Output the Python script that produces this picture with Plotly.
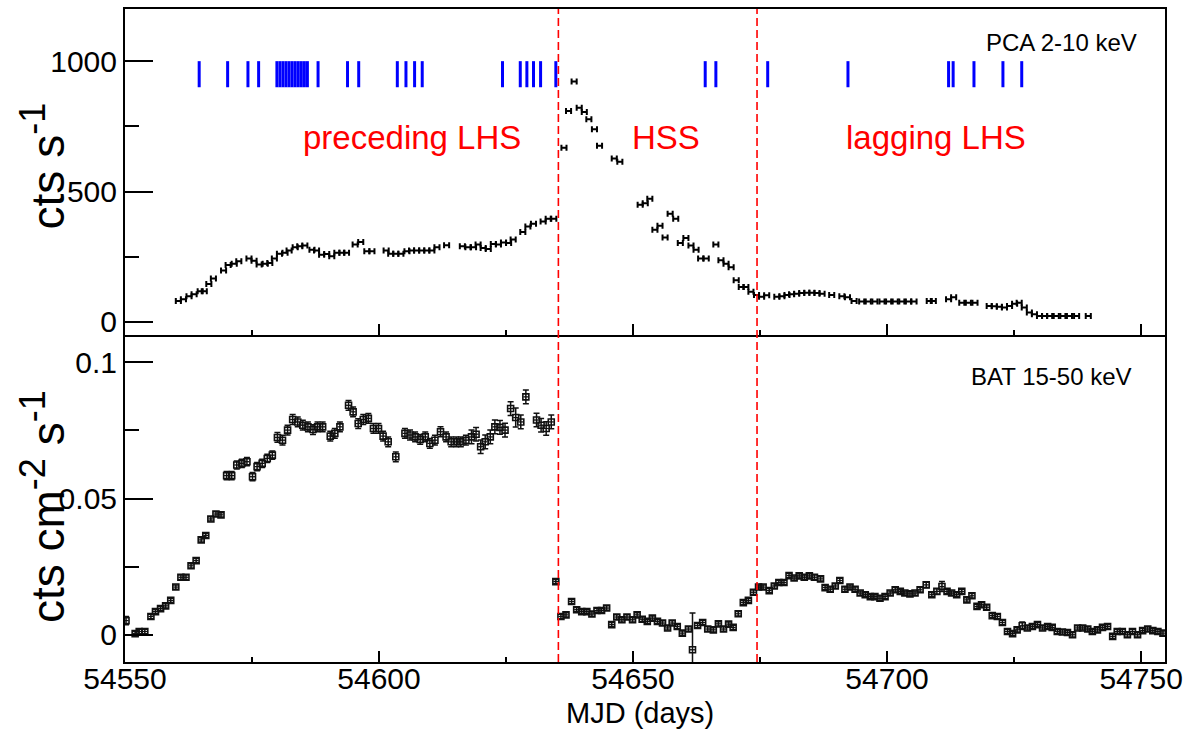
import plotly.graph_objects as go

# ---------------- data ----------------
pca_mjd = [54560.5, 54561.5, 54562.6, 54563.6, 54564.8, 54565.6, 54566.5, 54567.4, 54569.4, 54570.3,
           54571.5, 54572.4, 54574.4, 54575.4, 54576.4, 54577.6, 54578.5, 54579.4, 54580.4, 54581.5,
           54582.3, 54583.5, 54584.4, 54585.4, 54586.8, 54587.7, 54588.7, 54589.7, 54590.7, 54591.7,
           54592.7, 54593.6, 54595.3, 54596.4, 54597.6, 54598.6, 54601.4, 54602.3, 54603.3, 54604.3,
           54605.5, 54606.4, 54607.4, 54608.4, 54609.4, 54610.4, 54611.4, 54613.3, 54616.4, 54617.5,
           54618.6, 54619.5, 54620.5, 54621.5, 54622.5, 54623.5, 54624.5, 54625.5, 54626.4, 54628.3,
           54629.3, 54630.4, 54632.3, 54633.3, 54634.4,
           54636.4, 54637.3, 54638.4, 54639.4, 54640.4, 54641.3, 54642.4, 54643.4, 54646.3, 54647.4,
           54651.4, 54652.4, 54653.3, 54654.3, 54655.3, 54656.3, 54657.3, 54658.4, 54659.3, 54660.4,
           54661.4, 54662.4, 54663.3, 54664.4, 54666.3, 54667.3, 54668.3, 54669.3, 54670.3, 54671.3,
           54672.2, 54673.2, 54674.3, 54675.3, 54676.3,
           54678.3, 54679.3, 54680.3, 54681.2, 54682.2, 54683.2, 54684.2, 54685.2, 54686.2, 54687.2,
           54689.1, 54691.1, 54692.2, 54693.5, 54695.0, 54696.3, 54697.6, 54699.0, 54700.3, 54701.6,
           54702.9, 54704.2, 54705.3, 54708.3, 54709.1, 54712.1, 54713.1, 54714.7, 54716.0, 54717.3,
           54720.1, 54721.1, 54722.1, 54723.1, 54724.1, 54725.1, 54726.0, 54727.0, 54728.0, 54729.0,
           54730.0, 54731.0, 54732.0, 54733.3, 54734.6, 54735.9, 54737.3, 54739.6]
pca_rate = [80, 87, 99, 106, 118, 118, 146, 167, 197, 218,
            223, 233, 243, 235, 220, 223, 226, 243, 262, 265,
            274, 286, 290, 293, 277, 274, 258, 261, 252, 265,
            265, 265, 297, 307, 271, 271, 274, 262, 262, 262,
            271, 274, 274, 274, 274, 274, 286, 294, 290, 286,
            286, 297, 284, 280, 299, 297, 305, 303, 316, 345,
            366, 377, 385, 396, 396,
            668, 809, 922, 821, 805, 777, 739, 676, 627, 614,
            449, 455, 472, 354, 369, 324, 415, 396, 303, 322,
            293, 277, 243, 243, 297, 237, 223, 210, 160, 134,
            134, 116, 103, 97, 102,
            97, 99, 103, 106, 108, 111, 112, 112, 111, 108,
            103, 99, 95, 80, 78, 78, 78, 78, 78, 78,
            78, 78, 78, 80, 80, 87, 95, 74, 74, 74,
            61, 60, 58, 55, 61, 70, 74, 55, 36, 30,
            23, 23, 23, 23, 23, 23, 23, 23]
pca_halfbin = 0.5

bat_mjd = [54550.2, 54552.0, 54552.8, 54553.9, 54555.1, 54556.0, 54557.0, 54558.0, 54559.0, 54560.0,
           54561.0, 54562.0, 54563.0, 54564.0, 54565.0, 54565.9, 54566.9, 54567.9, 54568.9, 54570.0,
           54571.0, 54572.0, 54573.0, 54574.0, 54575.1, 54576.0, 54577.0, 54578.0, 54579.0, 54580.0,
           54581.0, 54582.0, 54583.0, 54584.0, 54585.0, 54586.0, 54587.0, 54587.9, 54588.9, 54590.4,
           54591.3, 54592.3, 54594.0, 54594.9, 54595.9, 54596.9, 54597.9, 54598.9, 54599.9, 54600.8,
           54601.8, 54603.3, 54605.1, 54606.1, 54607.1, 54608.1, 54609.1, 54610.0, 54611.0, 54612.1,
           54613.2, 54614.2, 54615.2, 54616.1, 54617.1, 54618.2, 54619.1, 54620.0, 54620.9, 54621.9,
           54622.8, 54623.8, 54624.8, 54625.9, 54626.9, 54627.9, 54628.9, 54631.0, 54631.9, 54632.9,
           54633.9,
           54634.8, 54635.8, 54636.8, 54637.9, 54638.9, 54639.9, 54640.9, 54641.9, 54642.9, 54643.8,
           54644.8, 54645.8, 54646.8, 54647.8, 54648.8, 54649.9, 54650.8, 54651.8, 54652.8, 54653.8,
           54654.8, 54655.8, 54656.8, 54657.7, 54658.7, 54659.7, 54660.9, 54661.7, 54662.7, 54663.7,
           54664.7, 54665.8, 54666.8, 54667.8, 54668.8, 54669.7, 54670.7, 54671.7, 54672.7, 54673.7,
           54674.7, 54675.6, 54676.8, 54677.8, 54678.7, 54679.7, 54680.7, 54681.7, 54682.7, 54683.7,
           54684.7, 54685.7, 54686.9, 54687.8, 54688.8, 54689.8, 54690.7, 54691.7, 54692.7, 54693.7,
           54694.7, 54695.7, 54696.7, 54697.6, 54698.6, 54699.6, 54700.6, 54701.6, 54702.6, 54703.5,
           54704.5, 54705.5, 54706.5, 54707.7, 54708.8, 54709.8, 54710.8, 54711.8, 54712.7, 54713.7,
           54714.7, 54715.7, 54716.7, 54717.7, 54718.6, 54719.6, 54720.7, 54721.7, 54722.7, 54723.7,
           54724.7, 54725.6, 54726.6, 54727.6, 54728.6, 54729.6, 54730.6, 54731.6, 54732.5, 54733.5,
           54734.5, 54735.5, 54736.5, 54737.5, 54738.5, 54739.5, 54740.4, 54741.4, 54742.4, 54743.4,
           54744.4, 54745.3, 54746.3, 54747.3, 54748.3, 54749.3, 54750.3, 54751.3, 54752.3, 54753.3,
           54754.3]
bat_rate = [0.0052, 0.0004, 0.0012, 0.0012, 0.0067, 0.0085, 0.0096, 0.0106, 0.0126, 0.0175,
            0.0211, 0.0211, 0.0253, 0.0272, 0.0348, 0.0364, 0.0425, 0.0443, 0.0440, 0.0584,
            0.0584, 0.0623, 0.0629, 0.0635, 0.0580, 0.0617, 0.0629, 0.0647, 0.0659, 0.0724,
            0.0714, 0.0751, 0.0790, 0.0781, 0.0769, 0.0763, 0.0753, 0.0763, 0.0763, 0.0729,
            0.0739, 0.0763, 0.0842, 0.0818, 0.0775, 0.0790, 0.0794, 0.0757, 0.0757, 0.0729,
            0.0708, 0.0653, 0.0739, 0.0733, 0.0726, 0.0717, 0.0726, 0.0702, 0.0714, 0.0745,
            0.0726, 0.0708, 0.0708, 0.0708, 0.0714, 0.0726, 0.0736, 0.0690, 0.0708, 0.0726,
            0.0763, 0.0761, 0.0751, 0.0830, 0.0797, 0.0781, 0.0873, 0.0788, 0.0769, 0.0757,
            0.0781,
            0.0195, 0.0067, 0.0073, 0.0122, 0.0092, 0.0085, 0.0085, 0.0076, 0.0089, 0.0089,
            0.0098, 0.0037, 0.0065, 0.0055, 0.0065, 0.0055, 0.0073, 0.0057, 0.0049, 0.0061,
            0.0049, 0.0043, 0.0025, 0.0043, 0.0030, 0.0006, 0.0021, -0.0055, 0.0034, 0.0045,
            0.0021, 0.0018, 0.0040, 0.0021, 0.0039, 0.0027, 0.0077, 0.0118, 0.0126, 0.0156,
            0.0175, 0.0175, 0.0162, 0.0179, 0.0192, 0.0192, 0.0217, 0.0208, 0.0216, 0.0211,
            0.0216, 0.0211, 0.0205, 0.0173, 0.0167, 0.0179, 0.0199, 0.0167, 0.0175, 0.0167,
            0.0153, 0.0147, 0.0140, 0.0140, 0.0134, 0.0140, 0.0153, 0.0165, 0.0159, 0.0153,
            0.0150, 0.0153, 0.0165, 0.0183, 0.0147, 0.0159, 0.0177, 0.0159, 0.0153, 0.0147,
            0.0159, 0.0128, 0.0143, 0.0104, 0.0110, 0.0101, 0.0070, 0.0067, 0.0045, 0.0012,
            0.0004, 0.0018, 0.0033, 0.0025, 0.0030, 0.0037, 0.0025, 0.0030, 0.0027, 0.0012,
            0.0010, 0.0008, 0.0000, 0.0025, 0.0025, 0.0021, 0.0012, 0.0018, 0.0027, 0.0030,
            -0.0006, 0.0012, 0.0012, 0.0000, 0.0012, 0.0000, 0.0015, 0.0021, 0.0015, 0.0012,
            0.0006]
bat_err = [0.0015, 0.0008, 0.0008, 0.0008, 0.0008, 0.0008, 0.0008, 0.0008, 0.0008, 0.0008,
           0.0008, 0.0008, 0.0008, 0.0008, 0.0008, 0.0008, 0.0008, 0.0008, 0.0008, 0.0015,
           0.0015, 0.0015, 0.0015, 0.0015, 0.0015, 0.0015, 0.0015, 0.0015, 0.0015, 0.0018,
           0.0018, 0.0018, 0.0018, 0.0018, 0.0018, 0.0018, 0.0018, 0.0018, 0.0018, 0.0018,
           0.0018, 0.0018, 0.0018, 0.0018, 0.0018, 0.0018, 0.0018, 0.0018, 0.0018, 0.0018,
           0.0018, 0.0018, 0.0018, 0.0018, 0.0018, 0.0018, 0.0018, 0.0018, 0.0018, 0.0018,
           0.0018, 0.0018, 0.0018, 0.0018, 0.0018, 0.0025, 0.0025, 0.0025, 0.0025, 0.0025,
           0.0025, 0.0025, 0.0025, 0.0025, 0.0035, 0.0025, 0.0025, 0.0025, 0.0025, 0.0025,
           0.0025,
           0.0008, 0.0008, 0.0008, 0.0008, 0.0008, 0.0008, 0.0008, 0.0008, 0.0008, 0.0008,
           0.0008, 0.0008, 0.0008, 0.0008, 0.0008, 0.0008, 0.0008, 0.0008, 0.0008, 0.0008,
           0.0008, 0.0008, 0.0008, 0.0008, 0.0008, 0.0008, 0.0008, 0.0135, 0.0008, 0.0008,
           0.0008, 0.0008, 0.0008, 0.0008, 0.0008, 0.0008, 0.0008, 0.0008, 0.0008, 0.0008,
           0.0008, 0.0008, 0.0008, 0.0008, 0.0008, 0.0008, 0.0008, 0.0008, 0.0008, 0.0008,
           0.0008, 0.0008, 0.0008, 0.0008, 0.0008, 0.0008, 0.0008, 0.0008, 0.0008, 0.0008,
           0.0008, 0.0008, 0.0008, 0.0008, 0.0008, 0.0008, 0.0008, 0.0008, 0.0008, 0.0008,
           0.0008, 0.0008, 0.0008, 0.0010, 0.0008, 0.0010, 0.0018, 0.0008, 0.0008, 0.0008,
           0.0008, 0.0008, 0.0008, 0.0008, 0.0008, 0.0008, 0.0008, 0.0008, 0.0008, 0.0008,
           0.0008, 0.0008, 0.0014, 0.0008, 0.0008, 0.0008, 0.0008, 0.0008, 0.0008, 0.0008,
           0.0008, 0.0008, 0.0008, 0.0008, 0.0008, 0.0008, 0.0008, 0.0008, 0.0008, 0.0008,
           0.0008, 0.0008, 0.0008, 0.0008, 0.0008, 0.0008, 0.0008, 0.0008, 0.0008, 0.0008,
           0.0008]
bat_halfbin = 0.5

# times of pointed observations (blue marks)
obs_mjd = [54564.6, 54570.2, 54574.2, 54576.3, 54579.9, 54580.5, 54581.1, 54581.7, 54582.3,
           54582.9, 54583.5, 54584.1, 54584.7, 54585.3, 54585.9, 54588.0, 54593.8, 54596.0,
           54603.6, 54605.3, 54607.0, 54608.5, 54624.3, 54627.8, 54629.1, 54630.4, 54631.8,
           54634.8, 54664.2, 54666.3, 54676.5, 54692.3, 54712.1, 54713.0, 54717.1, 54722.8,
           54726.5]
obs_mark_range = [900, 1000]

state_bounds = [54635.3, 54674.4]
state_labels = ["preceding LHS", "HSS", "lagging LHS"]
state_label_x = [54606.4, 54656.5, 54709.6]
state_label_y = 706

x_range = [54550, 54754.7]
pca_range = [-50, 1200]
bat_range = [-0.01, 0.11]
x_tick_step = 50
x_minor_step = 25
pca_ticks = [0, 500, 1000]
pca_minor = [250, 750]
bat_ticks = [0, 0.05, 0.1]
bat_ticktext = ["0", "0.05", "0.1"]
bat_minor = [0.025, 0.075]

FONT = "Liberation Sans, Arial, Helvetica, sans-serif"

fig = go.Figure()

fig.add_trace(go.Scatter(
    x=pca_mjd, y=pca_rate, mode="markers",
    marker=dict(size=1, color="black"),
    error_x=dict(type="constant", value=pca_halfbin, color="black", thickness=2, width=3),
    xaxis="x", yaxis="y", showlegend=False, hoverinfo="skip"))

fig.add_trace(go.Scatter(
    x=bat_mjd, y=bat_rate, mode="markers",
    marker=dict(symbol="square-open", size=6, color="#111111", line=dict(width=1.6)),
    error_x=dict(type="constant", value=bat_halfbin, color="#111111", thickness=1.3, width=0),
    error_y=dict(type="data", array=bat_err, color="#111111", thickness=1.5, width=3),
    xaxis="x2", yaxis="y2", showlegend=False, hoverinfo="skip"))

# blue observation marks
for m in obs_mjd:
    fig.add_shape(type="line", xref="x", yref="y", x0=m, x1=m,
                  y0=obs_mark_range[0], y1=obs_mark_range[1],
                  line=dict(color="#0000ff", width=3))

# state boundaries
for b in state_bounds:
    fig.add_shape(type="line", xref="x", yref="paper", x0=b, x1=b, y0=0, y1=1,
                  line=dict(color="#ff0000", width=1.6, dash="8px,4px"))

for lab, lx in zip(state_labels, state_label_x):
    fig.add_annotation(x=lx, y=state_label_y, xref="x", yref="y", text=lab,
                       showarrow=False, font=dict(family=FONT, size=33, color="#ff0000"),
                       xanchor="center", yanchor="middle")

fig.add_annotation(x=54749.6, y=1072, xref="x", yref="y", text="PCA 2-10 keV",
                   showarrow=False, font=dict(family=FONT, size=24, color="black"),
                   xanchor="right", yanchor="middle")
fig.add_annotation(x=54748.6, y=0.0949, xref="x2", yref="y2", text="BAT 15-50 keV",
                   showarrow=False, font=dict(family=FONT, size=24, color="black"),
                   xanchor="right", yanchor="middle")

SUP = "<sup><span style='font-size:36px'>%s</span></sup>"
fig.add_annotation(x=-0.0788, y=0.759, xref="paper", yref="paper",
                   text="cts s" + SUP % "-1", textangle=-90, showarrow=False,
                   font=dict(family=FONT, size=46, color="black"),
                   xanchor="center", yanchor="middle")
fig.add_annotation(x=-0.0788, y=0.2374, xref="paper", yref="paper",
                   text="cts cm" + SUP % "-2" + " s" + SUP % "-1", textangle=-90, showarrow=False,
                   font=dict(family=FONT, size=46, color="black"),
                   xanchor="center", yanchor="middle")
fig.add_annotation(x=0.495, y=-0.078, xref="paper", yref="paper",
                   text="MJD (days)", showarrow=False,
                   font=dict(family=FONT, size=29, color="black"),
                   xanchor="center", yanchor="middle")

axis_common = dict(showline=True, linecolor="black", linewidth=2,
                   showgrid=False, zeroline=False, ticks="inside", tickcolor="black",
                   tickfont=dict(family=FONT, size=30, color="black"))

split = 328 / 655

fig.update_layout(
    width=1190, height=736,
    margin=dict(l=125, r=25, t=7, b=74),
    paper_bgcolor="white", plot_bgcolor="white",
    xaxis=dict(domain=[0, 1], anchor="y", range=x_range, tickmode="linear", tick0=x_range[0],
               dtick=x_tick_step, ticklen=11, tickwidth=2, showticklabels=False, mirror=True,
               minor=dict(ticks="inside", dtick=x_minor_step, tick0=x_range[0], ticklen=5,
                          tickwidth=1.5, tickcolor="black"),
               **axis_common),
    yaxis=dict(domain=[split, 1], anchor="x", range=pca_range, tickmode="array",
               tickvals=pca_ticks, ticklen=28, tickwidth=2, mirror=True,
               minor=dict(ticks="inside", tickvals=pca_minor, ticklen=14, tickwidth=1.5,
                          tickcolor="black"),
               **axis_common),
    xaxis2=dict(domain=[0, 1], anchor="y2", range=x_range, tickmode="linear", tick0=x_range[0],
                dtick=x_tick_step, ticklen=11, tickwidth=2, tickformat="d", mirror=False,
                ticklabelstandoff=-11,
                minor=dict(ticks="inside", dtick=x_minor_step, tick0=x_range[0], ticklen=5,
                           tickwidth=1.5, tickcolor="black"),
                **axis_common),
    yaxis2=dict(domain=[0, split], anchor="x2", range=bat_range, tickmode="array",
                tickvals=bat_ticks, ticktext=bat_ticktext, ticklen=28, tickwidth=2, mirror=True,
                minor=dict(ticks="inside", tickvals=bat_minor, ticklen=14, tickwidth=1.5,
                           tickcolor="black"),
                **axis_common),
)

fig.write_html("out.html")
